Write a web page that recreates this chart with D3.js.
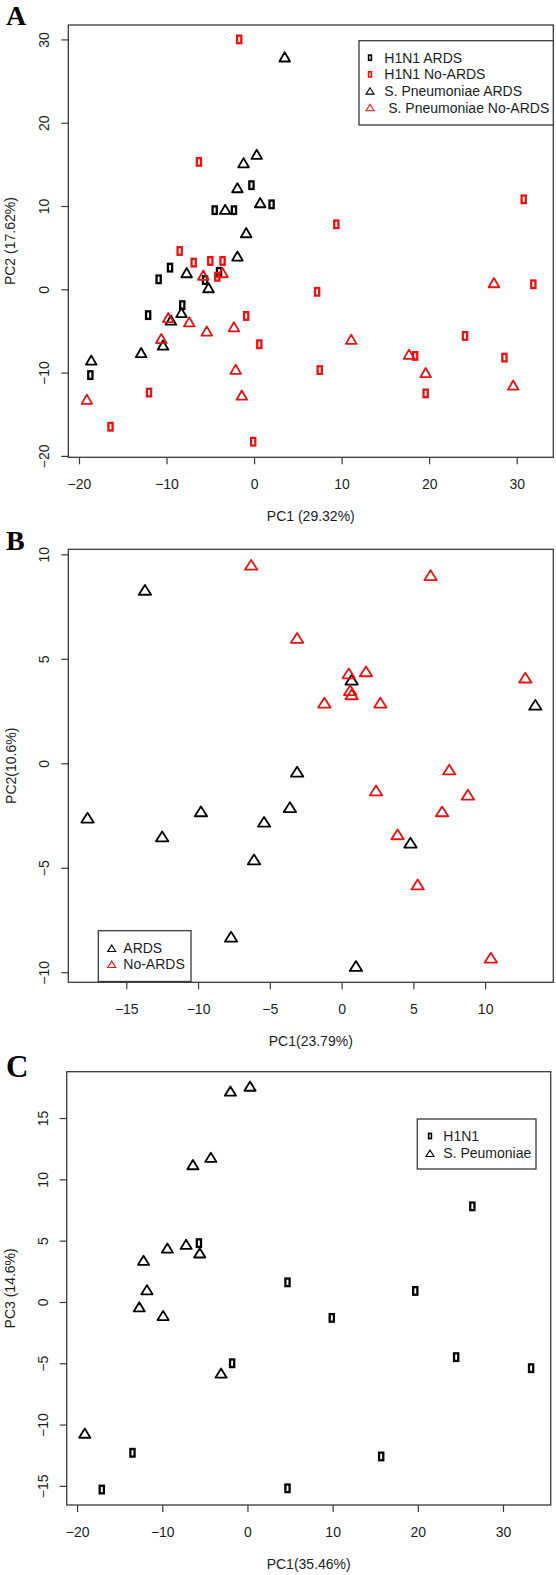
<!DOCTYPE html>
<html><head><meta charset="utf-8">
<script src="https://cdn.jsdelivr.net/npm/d3@7"></script>
<style>body{margin:0;background:#fff}svg{display:block}</style>
</head><body><svg id="c" width="556" height="1575"></svg>
<script>
// ---------- Panel A : PC1 vs PC2, H1N1 + S. pneumoniae ----------
const aH1N1Ards   = [[-0.3,12.5],[2.0,10.2],[-4.5,9.5],[-2.3,9.5],[-9.6,2.6],[-4.0,2.1],[-10.9,1.2],[-5.6,1.1],[-8.2,-1.9],[-12.1,-3.1],[-18.7,-10.3]];
const aH1N1NoArds = [[-1.7,30.0],[-6.3,15.3],[-8.5,4.6],[-6.9,3.2],[-5.0,3.4],[-3.6,3.4],[-4.2,1.5],[-0.9,-3.2],[0.6,-6.6],[-12.0,-12.4],[-16.4,-16.5],[-0.1,-18.3],[9.4,7.8],[30.8,10.8],[7.2,-0.3],[31.9,0.6],[24.1,-5.6],[18.4,-8.0],[28.6,-8.2],[7.5,-9.7],[19.6,-12.5]];
const aSpArds     = [[3.5,27.9],[0.3,16.2],[-1.2,15.2],[-1.9,12.2],[0.7,10.4],[-3.3,9.6],[-0.9,6.8],[-1.9,4.0],[-7.7,2.0],[-5.2,0.2],[-8.3,-2.8],[-9.5,-3.7],[-10.4,-6.7],[-12.9,-7.6],[-18.6,-8.5]];
const aSpNoArds   = [[-3.6,2.0],[-5.8,1.7],[-9.8,-3.4],[-7.4,-3.9],[-5.4,-5.0],[-2.3,-4.5],[-10.6,-5.9],[-2.1,-9.6],[-1.4,-12.7],[-19.1,-13.2],[27.4,0.8],[11.1,-6.0],[17.7,-7.8],[19.6,-10.0],[29.6,-11.5]];
const aXTicks = [-20,-10,0,10,20,30];
const aYTicks = [-20,-10,0,10,20,30];
const aLegend = ["H1N1 ARDS","H1N1 No-ARDS","S. Pneumoniae ARDS"," S. Pneumoniae No-ARDS"];

// ---------- Panel B : S. pneumoniae, PC1 vs PC2 ----------
const bArds   = [[-13.7,8.3],[0.7,4.0],[13.5,2.8],[-3.1,-0.4],[-17.7,-2.6],[-12.5,-3.5],[-9.8,-2.3],[-5.4,-2.8],[-3.6,-2.1],[-6.1,-4.6],[-7.7,-8.3],[4.8,-3.8],[1.0,-9.7]];
const bNoArds = [[-6.3,9.5],[6.2,9.0],[-3.1,6.0],[0.5,4.3],[1.7,4.4],[0.6,3.5],[0.7,3.3],[-1.2,2.9],[2.7,2.9],[12.8,4.1],[7.5,-0.3],[2.4,-1.3],[8.8,-1.5],[7.0,-2.3],[3.9,-3.4],[5.3,-5.8],[10.4,-9.3]];
const bXTicks = [-15,-10,-5,0,5,10];
const bYTicks = [-10,-5,0,5,10];
const bLegend = ["ARDS","No-ARDS"];

// ---------- Panel C : PC1 vs PC3, pathogen ----------
const cH1N1 = [[-5.7,4.8],[4.7,1.6],[-1.8,-5.0],[-13.5,-12.3],[-17.1,-15.3],[4.7,-15.2],[26.4,7.8],[19.7,0.9],[9.9,-1.3],[24.5,-4.5],[33.3,-5.4],[15.7,-12.6]];
const cSp   = [[-2.0,17.2],[0.3,17.6],[-6.4,11.2],[-4.3,11.8],[-9.4,4.4],[-7.2,4.7],[-5.6,4.0],[-12.2,3.4],[-11.8,1.0],[-12.7,-0.4],[-9.9,-1.1],[-3.1,-5.8],[-19.1,-10.7]];
const cXTicks = [-20,-10,0,10,20,30];
const cYTicks = [-15,-10,-5,0,5,10,15];
const cLegend = ["H1N1","S. Peumoniae"];

const FONT = "'Liberation Sans', Arial, Helvetica, sans-serif";
const TXT = "#1e1e1e", AX = "#3a3a3a", RED = "#ee1111";
const svg = d3.select("#c");

function triPath(hw, hh){ return `M0,${-hh}L${hw},${hh}L${-hw},${hh}Z`; }

function drawPoints(g, data, x, y, shape, color, tri){
  const sel = g.append("g").selectAll("g").data(data).join("g")
    .attr("transform", d => `translate(${x(d[0])},${y(d[1])})`);
  if (shape === "rect") {
    sel.append("rect").attr("x",-2.1).attr("y",-3.8).attr("width",4.2).attr("height",7.6)
      .attr("fill","none").attr("stroke",color).attr("stroke-width",2.3);
  } else {
    sel.append("path").attr("d", triPath(tri[0], tri[1]))
      .attr("fill","none").attr("stroke",color).attr("stroke-width",1.8).attr("stroke-linejoin","round");
  }
}

function panel(p){
  const g = svg.append("g");
  const x = d3.scaleLinear().domain(p.xDomain).range([p.left, p.right]);
  const y = d3.scaleLinear().domain(p.yDomain).range([p.bottom, p.top]);
  const fmt = d3.format("");

  const xa = g.append("g").attr("transform",`translate(0,${p.bottom})`)
    .call(d3.axisBottom(x).tickValues(p.xTicks).tickSize(7).tickSizeOuter(0).tickFormat(fmt));
  const ya = g.append("g").attr("transform",`translate(${p.left},0)`)
    .call(d3.axisLeft(y).tickValues(p.yTicks).tickSize(7).tickSizeOuter(0).tickFormat(fmt));
  [xa, ya].forEach(a => {
    a.select(".domain").remove();
    a.selectAll(".tick line").attr("stroke", AX).attr("stroke-width", 1.2);
    a.selectAll(".tick text").attr("fill", TXT).style("font-family", FONT).style("font-size","14px");
  });
  xa.selectAll(".tick text").attr("y", 31.5).attr("dy", 0);
  ya.selectAll(".tick text").attr("transform","rotate(-90)").attr("x",0).attr("y",-19)
    .attr("dy",0).attr("text-anchor","middle");

  // box
  g.append("rect").attr("x",p.left).attr("y",p.top).attr("width",p.right-p.left).attr("height",p.bottom-p.top)
    .attr("fill","none").attr("stroke",AX).attr("stroke-width",1.3);

  // titles
  g.append("text").attr("x",(p.left+p.right)/2).attr("y",p.xTitleY).attr("text-anchor","middle")
    .style("font-family",FONT).style("font-size","14px").attr("fill",TXT).text(p.xTitle);
  g.append("text").attr("transform",`translate(${p.yTitleX},${(p.top+p.bottom)/2}) rotate(-90)`)
    .attr("text-anchor","middle").style("font-family",FONT).style("font-size","14px").attr("fill",TXT).text(p.yTitle);
  g.append("text").attr("x",6).attr("y",p.letterY).style("font-family","'Liberation Serif','Times New Roman',serif")
    .style("font-weight","bold").style("font-size",p.letterSize+"px").attr("fill","#000").text(p.letter);

  // points
  p.series.forEach(s => drawPoints(g, s.data, x, y, s.shape, s.color, p.tri));

  // legend
  const L = p.legend;
  g.append("rect").attr("x",L.x0).attr("y",L.y0).attr("width",L.x1-L.x0).attr("height",L.y1-L.y0)
    .attr("fill","#fff").attr("stroke",AX).attr("stroke-width",1.3);
  L.items.forEach((it,i) => {
    const cy = L.firstY + i*L.step;
    if (it.shape === "rect") {
      g.append("rect").attr("x",L.symX-1.4).attr("y",cy-2.6).attr("width",2.8).attr("height",5.2)
        .attr("fill","none").attr("stroke",it.color).attr("stroke-width",1.6);
    } else {
      g.append("path").attr("transform",`translate(${L.symX},${cy})`).attr("d",triPath(4,3.2))
        .attr("fill","none").attr("stroke",it.color).attr("stroke-width",1.1);
    }
    g.append("text").attr("x",L.textX).attr("y",cy+5).style("font-family",FONT).style("font-size","14px")
      .style("white-space","pre").attr("fill",TXT).text(it.label);
  });
}

panel({
  left:68.3, right:553.3, top:25, bottom:457.3,
  xDomain:[-21.22,34.18], yDomain:[-20.17,31.73],
  xTicks:aXTicks, yTicks:aYTicks,
  xTitle:"PC1 (29.32%)", xTitleY:521, yTitle:"PC2 (17.62%)", yTitleX:15,
  letter:"A", letterY:25, letterSize:28, tri:[5.3,4.6],
  series:[
    {data:aH1N1Ards, shape:"rect", color:"#000"},
    {data:aH1N1NoArds, shape:"rect", color:RED},
    {data:aSpArds, shape:"tri", color:"#000"},
    {data:aSpNoArds, shape:"tri", color:RED}
  ],
  legend:{x0:359, x1:553.3, y0:40.7, y1:125, symX:370, textX:384.3, firstY:57.7, step:16.6,
    items:[
      {label:aLegend[0], shape:"rect", color:"#000"},
      {label:aLegend[1], shape:"rect", color:RED},
      {label:aLegend[2], shape:"tri", color:"#000"},
      {label:aLegend[3], shape:"tri", color:RED}
    ]}
});

panel({
  left:68.3, right:553.3, top:549.3, bottom:982.3,
  xDomain:[-19.04,14.75], yDomain:[-10.48,10.24],
  xTicks:bXTicks, yTicks:bYTicks,
  xTitle:"PC1(23.79%)", xTitleY:1046, yTitle:"PC2(10.6%)", yTitleX:16,
  letter:"B", letterY:550, letterSize:28, tri:[6.2,4.9],
  series:[
    {data:bArds, shape:"tri", color:"#000"},
    {data:bNoArds, shape:"tri", color:RED}
  ],
  legend:{x0:98.3, x1:191, y0:930.7, y1:981.5, symX:111.7, textX:123.3, firstY:948.3, step:16,
    items:[
      {label:bLegend[0], shape:"tri", color:"#000"},
      {label:bLegend[1], shape:"tri", color:RED}
    ]}
});

panel({
  left:66.7, right:550.7, top:1071.7, bottom:1505,
  xDomain:[-21.22,35.6], yDomain:[-16.56,18.78],
  xTicks:cXTicks, yTicks:cYTicks,
  xTitle:"PC1(35.46%)", xTitleY:1569, yTitle:"PC3 (14.6%)", yTitleX:15,
  letter:"C", letterY:1077, letterSize:31, tri:[5.6,4.6],
  series:[
    {data:cH1N1, shape:"rect", color:"#000"},
    {data:cSp, shape:"tri", color:"#000"}
  ],
  legend:{x0:417.3, x1:536, y0:1119, y1:1169, symX:430, textX:443.3, firstY:1136, step:17.3,
    items:[
      {label:cLegend[0], shape:"rect", color:"#000"},
      {label:cLegend[1], shape:"tri", color:"#000"}
    ]}
});
</script></body></html>
